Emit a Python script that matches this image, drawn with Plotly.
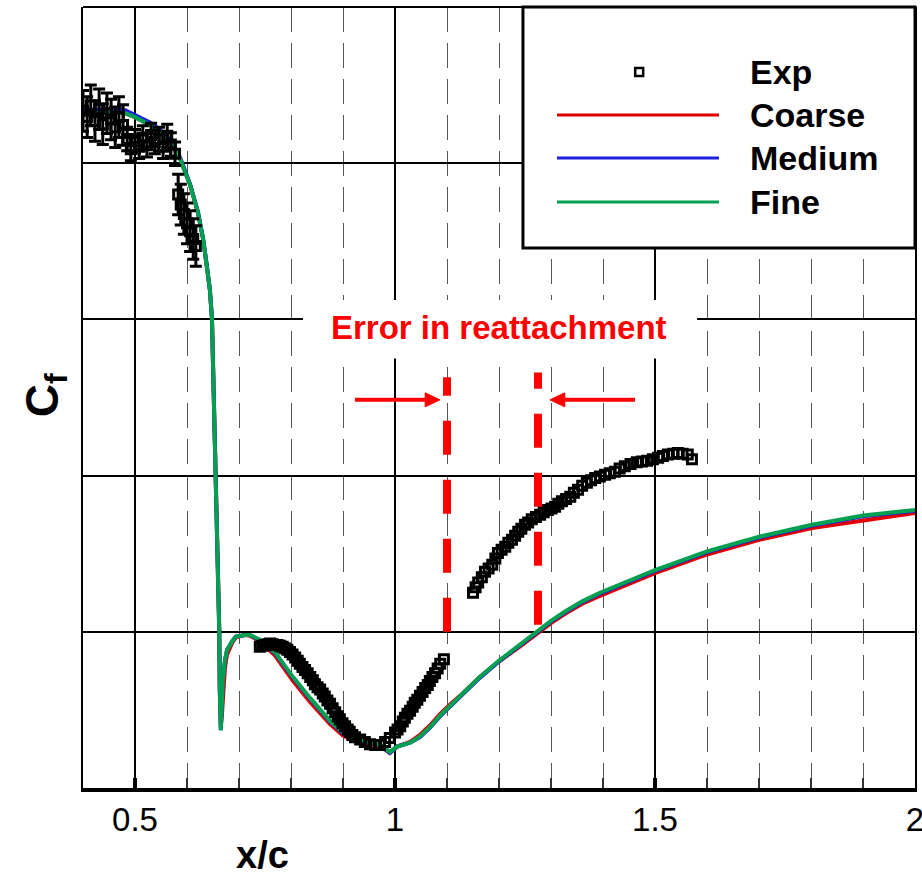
import plotly.graph_objects as go

# ---------------- data ----------------
# Experimental data with error bars (upstream of separation)
exp_up_x = [0.400, 0.408, 0.415, 0.423, 0.431, 0.438, 0.446, 0.454, 0.462, 0.469, 0.477,
            0.485, 0.492, 0.500, 0.508, 0.515, 0.523, 0.531, 0.538, 0.546, 0.554, 0.562, 0.569, 0.577,
            0.583, 0.588, 0.594, 0.600, 0.606, 0.612, 0.617]
exp_up_cf = [0.00667, 0.00659, 0.00674, 0.00654, 0.00669, 0.00650, 0.00664, 0.00656, 0.00646, 0.00659, 0.00649,
             0.00631, 0.00618, 0.00628, 0.00621, 0.00633, 0.00623, 0.00636, 0.00627, 0.00631, 0.00621, 0.00635, 0.00624, 0.00612,
             0.00560, 0.00547, 0.00535, 0.00523, 0.00513, 0.00503, 0.00494]
exp_up_err = [0.00026, 0.00026, 0.00026, 0.00026, 0.00026, 0.00026, 0.00026, 0.00026, 0.00026, 0.00026, 0.00026,
              0.00015, 0.00015, 0.00015, 0.00015, 0.00015, 0.00015, 0.00015, 0.00015, 0.00015, 0.00015, 0.00015, 0.00015, 0.00015,
              0.00026, 0.00026, 0.00026, 0.00026, 0.00026, 0.00026, 0.00026]

# Experimental data in the separation bubble
exp_bub_x = [0.740, 0.745, 0.750, 0.755, 0.760, 0.765, 0.769, 0.774, 0.779, 0.784, 0.788, 0.793,
             0.798, 0.803, 0.808, 0.813, 0.817, 0.822, 0.827, 0.832, 0.837, 0.842, 0.846, 0.851,
             0.856, 0.861, 0.865, 0.870, 0.875, 0.880, 0.885, 0.890, 0.894, 0.899, 0.904, 0.909,
             0.913, 0.918, 0.923, 0.933, 0.942, 0.952, 0.962, 0.971, 0.981, 0.990, 1.000, 1.005,
             1.010, 1.015, 1.019, 1.024, 1.029, 1.034, 1.038, 1.043, 1.048, 1.053, 1.058, 1.063,
             1.067, 1.072, 1.077, 1.082, 1.087, 1.094]
exp_bub_cf = [-0.00019, -0.00018, -0.00017, -0.00016, -0.00015, -0.00016, -0.00017, -0.00017, -0.00018,
              -0.00019, -0.00021, -0.00023, -0.00026, -0.00029, -0.00033, -0.00037, -0.00041, -0.00045,
              -0.00049, -0.00053, -0.00058, -0.00062, -0.00067, -0.00071, -0.00074, -0.00079, -0.00083,
              -0.00088, -0.00092, -0.00098, -0.00103, -0.00108, -0.00112, -0.00117, -0.00121, -0.00125,
              -0.00128, -0.00132, -0.00135, -0.00138, -0.00141, -0.00144, -0.00145, -0.00145, -0.00141,
              -0.00136, -0.00129, -0.00125, -0.00121, -0.00115, -0.00110, -0.00105, -0.00101, -0.00096,
              -0.00091, -0.00087, -0.00082, -0.00077, -0.00072, -0.00068, -0.00063, -0.00058, -0.00053,
              -0.00047, -0.00041, -0.00035]

# Experimental data in the recovery region
exp_rec_x = [1.150, 1.155, 1.160, 1.167, 1.173, 1.180, 1.187, 1.193, 1.198, 1.205, 1.212, 1.218,
             1.225, 1.231, 1.237, 1.243, 1.250, 1.256, 1.263, 1.271, 1.279, 1.286, 1.294, 1.301,
             1.308, 1.314, 1.321, 1.329, 1.337, 1.344, 1.352, 1.360, 1.369, 1.377, 1.385, 1.394,
             1.404, 1.413, 1.423, 1.432, 1.442, 1.453, 1.465, 1.475, 1.485, 1.496, 1.506, 1.515,
             1.525, 1.535, 1.544, 1.553, 1.563, 1.571]
exp_rec_cf = [0.00050, 0.00057, 0.00063, 0.00070, 0.00077, 0.00081, 0.00086, 0.00094, 0.00101, 0.00105,
              0.00109, 0.00114, 0.00118, 0.00123, 0.00128, 0.00132, 0.00137, 0.00140, 0.00144, 0.00147,
              0.00150, 0.00153, 0.00156, 0.00158, 0.00160, 0.00164, 0.00167, 0.00170, 0.00173, 0.00178,
              0.00182, 0.00187, 0.00191, 0.00194, 0.00197, 0.00199, 0.00201, 0.00203, 0.00205, 0.00209,
              0.00212, 0.00215, 0.00217, 0.00218, 0.00219, 0.00221, 0.00223, 0.00225, 0.00227, 0.00228,
              0.00229, 0.00228, 0.00227, 0.00221]

# CFD results
cfd_x = [0.400, 0.433, 0.462, 0.481, 0.500, 0.529, 0.548, 0.571, 0.587, 0.606, 0.621, 0.631,
         0.638, 0.644, 0.648, 0.652, 0.656, 0.660, 0.662, 0.663, 0.665, 0.667, 0.669, 0.673,
         0.677, 0.687, 0.694, 0.712, 0.721, 0.740, 0.769, 0.804, 0.837, 0.875, 0.900, 0.923,
         0.956, 0.975, 0.990, 1.004, 1.029, 1.048, 1.067, 1.087, 1.106, 1.125, 1.163, 1.198,
         1.240, 1.273, 1.300, 1.327, 1.360, 1.394, 1.450, 1.500, 1.600, 1.702, 1.802, 1.900, 2.000]
fine_cf = [0.00664, 0.00665, 0.00665, 0.00664, 0.00659, 0.00649, 0.00640, 0.00624, 0.00605, 0.00572,
           0.00537, 0.00503, 0.00470, 0.00438, 0.00400, 0.00297, 0.00200, 0.00092, 0.00000, -0.00074,
           -0.00126, -0.00094, -0.00062, -0.00036, -0.00023, -0.00012, -0.00006, -0.00004, -0.00004,
           -0.00010, -0.00026, -0.00058, -0.00085, -0.00114, -0.00129, -0.00137, -0.00141, -0.00146,
           -0.00154, -0.00147, -0.00142, -0.00134, -0.00122, -0.00107, -0.00095, -0.00083, -0.00058,
           -0.00038, -0.00017, 0.00001, 0.00014, 0.00026, 0.00039, 0.00050, 0.00066, 0.00079, 0.00103,
           0.00122, 0.00137, 0.00149, 0.00156]
medium_cf = [0.00668, 0.00669, 0.00669, 0.00668, 0.00662, 0.00652, 0.00643, 0.00627, 0.00607, 0.00573,
             0.00538, 0.00503, 0.00470, 0.00438, 0.00400, 0.00297, 0.00200, 0.00092, 0.00000, -0.00074,
             -0.00126, -0.00095, -0.00063, -0.00037, -0.00023, -0.00012, -0.00006, -0.00004, -0.00004,
             -0.00011, -0.00027, -0.00059, -0.00086, -0.00115, -0.00130, -0.00138, -0.00142, -0.00147,
             -0.00155, -0.00147, -0.00142, -0.00135, -0.00123, -0.00108, -0.00096, -0.00084, -0.00059,
             -0.00039, -0.00018, 0.00000, 0.00013, 0.00025, 0.00038, 0.00049, 0.00065, 0.00078, 0.00102,
             0.00121, 0.00136, 0.00148, 0.00155]
coarse_cf = [0.00664, 0.00665, 0.00665, 0.00664, 0.00659, 0.00649, 0.00640, 0.00624, 0.00605, 0.00572,
             0.00537, 0.00503, 0.00470, 0.00438, 0.00402, 0.00300, 0.00205, 0.00098, 0.00008, -0.00066,
             -0.00120, -0.00108, -0.00078, -0.00046, -0.00029, -0.00014, -0.00007, -0.00004, -0.00005,
             -0.00012, -0.00030, -0.00063, -0.00090, -0.00118, -0.00133, -0.00140, -0.00144, -0.00148,
             -0.00155, -0.00147, -0.00141, -0.00132, -0.00120, -0.00105, -0.00093, -0.00082, -0.00058,
             -0.00039, -0.00019, -0.00002, 0.00011, 0.00023, 0.00036, 0.00046, 0.00062, 0.00075, 0.00099,
             0.00118, 0.00133, 0.00143, 0.00152]

# reattachment locations (annotation)
reattach_x = [1.10, 1.275]
x_ticks = [0.5, 1.0, 1.5, 2.0]
x_tick_text = ["0.5", "1", "1.5", "2"]

FONT = "Liberation Sans, Arial, sans-serif"
RED = "#FF0000"

fig = go.Figure()

exp_marker = dict(symbol="square-open", size=9, color="black", line=dict(width=3, color="black"))

fig.add_trace(go.Scatter(x=cfd_x, y=coarse_cf, mode="lines", name="Coarse",
                         line=dict(color="#E00000", width=4)))
fig.add_trace(go.Scatter(x=cfd_x, y=medium_cf, mode="lines", name="Medium",
                         line=dict(color="#2020E0", width=4)))
fig.add_trace(go.Scatter(x=cfd_x, y=fine_cf, mode="lines", name="Fine",
                         line=dict(color="#00A050", width=4)))

fig.add_trace(go.Scatter(x=exp_up_x, y=exp_up_cf, mode="markers", name="Exp",
                         marker=exp_marker,
                         error_y=dict(type="data", array=exp_up_err, visible=True,
                                      color="black", thickness=3, width=6)))
fig.add_trace(go.Scatter(x=exp_bub_x, y=exp_bub_cf, mode="markers", marker=exp_marker, showlegend=False))
fig.add_trace(go.Scatter(x=exp_rec_x, y=exp_rec_cf, mode="markers", marker=exp_marker, showlegend=False))

shapes = []
annotations = []

# reattachment dashed red lines
shapes.append(dict(type="line", xref="x", yref="y", x0=reattach_x[0], x1=reattach_x[0],
                   y0=0.0, y1=0.00326, line=dict(color=RED, width=8, dash="34px,25px"), layer="above"))
shapes.append(dict(type="line", xref="x", yref="y", x0=reattach_x[1], x1=reattach_x[1],
                   y0=0.00009, y1=0.00332, line=dict(color=RED, width=8, dash="34px,25px"), layer="above"))

# white box behind the label
shapes.append(dict(type="rect", xref="x", yref="y", x0=0.823, x1=1.581, y0=0.00350, y1=0.00425,
                   fillcolor="white", line=dict(width=0), layer="above"))
annotations.append(dict(xref="x", yref="y", x=1.2, y=0.00389, text="<b>Error in reattachment</b>",
                        showarrow=False, font=dict(family=FONT, size=33, color=RED)))

# arrows (shaft + head)
arrow_y = 0.00297
shapes.append(dict(type="line", xref="x", yref="y", x0=0.923, x1=1.065, y0=arrow_y, y1=arrow_y,
                   line=dict(color=RED, width=4), layer="above"))
shapes.append(dict(type="path", xref="x", yref="y",
                   path="M 1.0865 %f L 1.058 %f L 1.058 %f Z" % (arrow_y, arrow_y + 0.00009, arrow_y - 0.00009),
                   fillcolor=RED, line=dict(color=RED, width=1), layer="above"))
shapes.append(dict(type="line", xref="x", yref="y", x0=1.4615, x1=1.320, y0=arrow_y, y1=arrow_y,
                   line=dict(color=RED, width=4), layer="above"))
shapes.append(dict(type="path", xref="x", yref="y",
                   path="M 1.298 %f L 1.3265 %f L 1.3265 %f Z" % (arrow_y, arrow_y + 0.00009, arrow_y - 0.00009),
                   fillcolor=RED, line=dict(color=RED, width=1), layer="above"))

# top frame line
shapes.append(dict(type="line", xref="paper", yref="paper", x0=0, x1=1, y0=1, y1=1,
                   line=dict(color="black", width=2), layer="above"))

# manual legend
shapes.append(dict(type="rect", xref="paper", yref="paper", x0=0.5288, x1=1.0, y0=0.6914, y1=1.0,
                   fillcolor="white", line=dict(color="black", width=3), layer="above"))
shapes.append(dict(type="rect", xref="paper", yref="paper", x0=0.6637, x1=0.6733, y0=0.9117, y1=0.9219,
                   fillcolor="white", line=dict(color="black", width=2.5), layer="above"))
legend_rows = [("Coarse", "#E00000", 0.8617), ("Medium", "#2020E0", 0.8067), ("Fine", "#00A050", 0.7503)]
for name, col, yy in legend_rows:
    shapes.append(dict(type="line", xref="paper", yref="paper", x0=0.5697, x1=0.7644, y0=yy, y1=yy,
                       line=dict(color=col, width=3), layer="above"))
for name, yy in [("Exp", 0.9168)] + [(r[0], r[2]) for r in legend_rows]:
    annotations.append(dict(xref="paper", yref="paper", x=0.7993, y=yy, xanchor="left", yanchor="middle",
                            text="<b>%s</b>" % name, showarrow=False,
                            font=dict(family=FONT, size=34, color="black")))

# axis titles
annotations.append(dict(xref="paper", yref="paper", x=0.216, y=-0.086, text="<b>x/c</b>",
                        showarrow=False, xanchor="center", yanchor="middle",
                        font=dict(family=FONT, size=38, color="black")))
annotations.append(dict(xref="paper", yref="paper", x=-0.0457, y=0.503, text="<b>C<sub>f</sub></b>",
                        showarrow=False, textangle=-90, xanchor="center", yanchor="middle",
                        font=dict(family=FONT, size=46, color="black")))

fig.update_layout(
    width=922, height=875,
    margin=dict(l=83, r=7, t=7, b=87),
    paper_bgcolor="white", plot_bgcolor="white",
    showlegend=False,
    shapes=shapes, annotations=annotations,
    font=dict(family=FONT, color="black"),
)

fig.update_xaxes(range=[0.4, 2.0], tickvals=x_ticks, ticktext=x_tick_text, automargin=False,
                 ticklabeloverflow="allow",
                 tickfont=dict(family=FONT, size=33, color="black"),
                 showgrid=True, gridcolor="black", gridwidth=1.5,
                 showline=True, linecolor="black", linewidth=3.5, mirror=False,
                 ticks="inside", ticklen=10, tickwidth=3.5, tickcolor="black",
                 zeroline=False,
                 minor=dict(dtick=0.1, showgrid=True, gridcolor="#555555", gridwidth=1.3,
                            griddash="25px,11px", ticks="inside", ticklen=10, tickwidth=2,
                            tickcolor="#333333"))
fig.update_yaxes(range=[-0.002, 0.008], dtick=0.002, showticklabels=False, automargin=False,
                 showgrid=True, gridcolor="black", gridwidth=1.5,
                 showline=True, linecolor="black", linewidth=2, mirror=True,
                 ticks="", zeroline=False)

fig.write_html("out.html")
